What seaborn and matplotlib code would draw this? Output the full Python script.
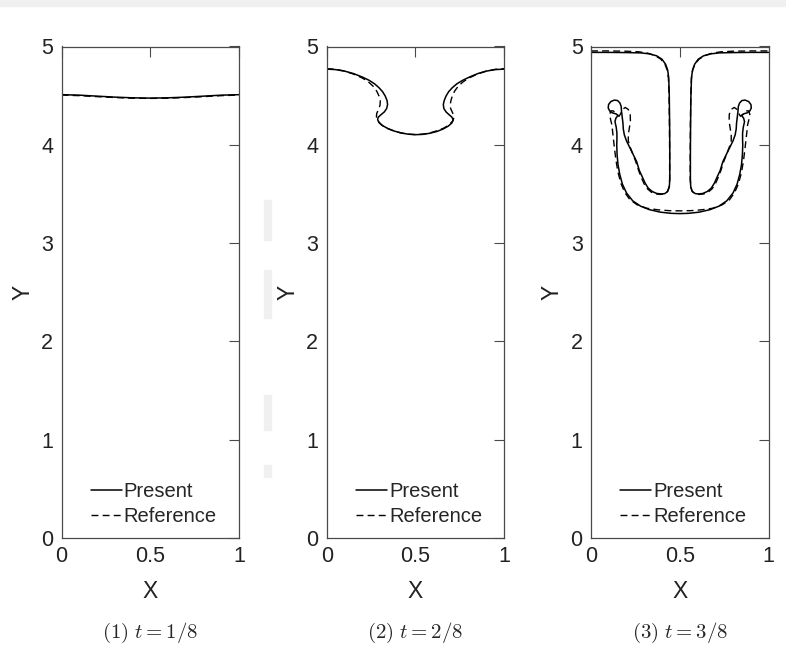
import matplotlib
matplotlib.use("Agg")
import matplotlib.pyplot as plt
import seaborn as sns
from matplotlib.patches import Rectangle

# ---------------- data ----------------
# Panel 1: t = 1/8
p1_present_x = [0.0, 0.1, 0.2, 0.3, 0.4, 0.5, 0.6, 0.7, 0.8, 0.9, 1.0]
p1_present_y = [4.510, 4.505, 4.495, 4.485, 4.478, 4.475, 4.478, 4.485, 4.495, 4.505, 4.510]
p1_ref_x = [0.0, 0.1, 0.2, 0.3, 0.4, 0.5, 0.6, 0.7, 0.8, 0.9, 1.0]
p1_ref_y = [4.506, 4.500, 4.490, 4.481, 4.474, 4.472, 4.474, 4.481, 4.490, 4.500, 4.506]

# Panel 2: t = 2/8
p2_present_x = [0.00, 0.05, 0.10, 0.15, 0.20, 0.24, 0.27, 0.295, 0.315, 0.330, 0.340, 0.343,
                0.338, 0.325, 0.305, 0.290, 0.287, 0.295, 0.315, 0.345, 0.38, 0.42, 0.46, 0.50,
                0.54, 0.58, 0.62, 0.655, 0.685, 0.705, 0.712, 0.705, 0.690, 0.672, 0.660, 0.657,
                0.662, 0.672, 0.687, 0.707, 0.733, 0.765, 0.805, 0.852, 0.90, 0.95, 1.00]
p2_present_y = [4.770, 4.765, 4.750, 4.725, 4.690, 4.655, 4.620, 4.580, 4.540, 4.495, 4.450, 4.410,
                4.370, 4.335, 4.305, 4.280, 4.255, 4.225, 4.195, 4.165, 4.140, 4.120, 4.108, 4.103,
                4.106, 4.117, 4.135, 4.160, 4.190, 4.222, 4.255, 4.282, 4.305, 4.335, 4.370, 4.410,
                4.450, 4.495, 4.540, 4.580, 4.620, 4.655, 4.690, 4.725, 4.750, 4.765, 4.770]
p2_ref_x = [0.00, 0.05, 0.10, 0.15, 0.20, 0.235, 0.262, 0.282, 0.295, 0.302, 0.300, 0.292,
            0.282, 0.280, 0.290, 0.31, 0.34, 0.38, 0.42, 0.46, 0.50,
            0.54, 0.58, 0.62, 0.66, 0.69, 0.712, 0.718, 0.708, 0.698, 0.696, 0.700,
            0.708, 0.722, 0.742, 0.768, 0.802, 0.850, 0.90, 0.95, 1.00]
p2_ref_y = [4.775, 4.768, 4.750, 4.720, 4.680, 4.640, 4.595, 4.545, 4.495, 4.445, 4.400, 4.360,
            4.320, 4.285, 4.240, 4.200, 4.168, 4.140, 4.120, 4.108, 4.104,
            4.108, 4.120, 4.142, 4.170, 4.205, 4.245, 4.290, 4.330, 4.370, 4.410, 4.450,
            4.500, 4.550, 4.598, 4.640, 4.680, 4.720, 4.750, 4.768, 4.775]

# Panel 3: t = 3/8
p3_present_x = [0.000, 0.100, 0.200, 0.280, 0.330, 0.370, 0.400, 0.420, 0.432, 0.438, 0.441, 0.443,
                0.444, 0.444, 0.441, 0.432, 0.415, 0.395, 0.370, 0.345, 0.322, 0.305, 0.290, 0.272,
                0.257, 0.238, 0.219, 0.200, 0.188, 0.182, 0.180, 0.176, 0.172, 0.170, 0.163, 0.150,
                0.132, 0.112, 0.099, 0.097, 0.105, 0.120, 0.140, 0.152, 0.140, 0.135, 0.142, 0.146,
                0.146, 0.145, 0.147, 0.152, 0.162, 0.177, 0.200, 0.235, 0.280, 0.330, 0.390, 0.450,
                0.500,
                0.550, 0.610, 0.670, 0.720, 0.765, 0.800, 0.823, 0.838, 0.848, 0.853, 0.855, 0.854,
                0.854, 0.858, 0.865, 0.860, 0.848, 0.860, 0.880, 0.895, 0.903, 0.901, 0.888, 0.868,
                0.850, 0.837, 0.830, 0.828, 0.824, 0.820, 0.818, 0.812, 0.800, 0.781, 0.762, 0.743,
                0.728, 0.710, 0.695, 0.678, 0.655, 0.630, 0.607, 0.588, 0.571, 0.562, 0.560, 0.560,
                0.561, 0.563, 0.566, 0.572, 0.584, 0.604, 0.634, 0.674, 0.722, 0.800, 0.900, 1.000]
p3_present_y = [4.940, 4.940, 4.938, 4.935, 4.925, 4.905, 4.870, 4.820, 4.760, 4.680, 4.500, 4.200,
                3.900, 3.650, 3.570, 3.525, 3.503, 3.500, 3.505, 3.525, 3.560, 3.610, 3.670, 3.740,
                3.830, 3.900, 3.970, 4.040, 4.100, 4.160, 4.220, 4.280, 4.340, 4.390, 4.425, 4.450,
                4.455, 4.440, 4.410, 4.375, 4.345, 4.325, 4.315, 4.300, 4.270, 4.235, 4.180, 4.120,
                4.050, 4.000, 3.900, 3.800, 3.700, 3.600, 3.510, 3.430, 3.375, 3.340, 3.315, 3.303,
                3.300,
                3.303, 3.315, 3.340, 3.375, 3.430, 3.510, 3.600, 3.700, 3.800, 3.900, 4.000, 4.050,
                4.120, 4.180, 4.235, 4.270, 4.300, 4.315, 4.325, 4.345, 4.375, 4.410, 4.440, 4.455,
                4.450, 4.425, 4.390, 4.340, 4.280, 4.220, 4.160, 4.100, 4.040, 3.970, 3.900, 3.830,
                3.740, 3.670, 3.610, 3.560, 3.525, 3.505, 3.500, 3.503, 3.525, 3.570, 3.650, 3.900,
                4.200, 4.500, 4.680, 4.760, 4.820, 4.870, 4.905, 4.925, 4.935, 4.938, 4.940, 4.940]
p3_ref_x = [0.000, 0.100, 0.200, 0.270, 0.320, 0.360, 0.393, 0.416, 0.429, 0.436, 0.440, 0.442,
            0.443, 0.443, 0.440, 0.430, 0.412, 0.390, 0.365, 0.340, 0.318, 0.300, 0.284, 0.268,
            0.252, 0.237, 0.222, 0.210, 0.210, 0.216, 0.222, 0.221, 0.210, 0.193, 0.177, 0.168,
            0.158, 0.142, 0.126, 0.112, 0.105, 0.110, 0.118, 0.122, 0.130, 0.140, 0.152, 0.170,
            0.192, 0.220, 0.260, 0.313, 0.380, 0.440, 0.500,
            0.560, 0.620, 0.687, 0.740, 0.780, 0.808, 0.830, 0.848, 0.860, 0.870, 0.878, 0.882,
            0.890, 0.895, 0.888, 0.874, 0.858, 0.842, 0.832, 0.823, 0.807, 0.790, 0.779, 0.778,
            0.784, 0.790, 0.790, 0.778, 0.763, 0.748, 0.732, 0.716, 0.700, 0.682, 0.660, 0.635,
            0.610, 0.588, 0.570, 0.562, 0.559, 0.559, 0.560, 0.562, 0.566, 0.573, 0.586, 0.609,
            0.642, 0.682, 0.732, 0.800, 0.900, 1.000]
p3_ref_y = [4.955, 4.955, 4.952, 4.946, 4.932, 4.908, 4.872, 4.822, 4.762, 4.680, 4.500, 4.200,
            3.900, 3.650, 3.570, 3.525, 3.500, 3.495, 3.500, 3.518, 3.552, 3.600, 3.665, 3.740,
            3.830, 3.900, 3.970, 4.040, 4.100, 4.170, 4.240, 4.310, 4.360, 4.380, 4.360, 4.320,
            4.290, 4.310, 4.345, 4.345, 4.310, 4.260, 4.200, 4.130, 4.000, 3.850, 3.720, 3.600,
            3.510, 3.440, 3.390, 3.355, 3.338, 3.330, 3.328,
            3.330, 3.338, 3.355, 3.390, 3.440, 3.510, 3.600, 3.720, 3.850, 4.000, 4.130, 4.200,
            4.260, 4.310, 4.345, 4.345, 4.310, 4.290, 4.320, 4.360, 4.380, 4.360, 4.310, 4.240,
            4.170, 4.100, 4.040, 3.970, 3.900, 3.830, 3.740, 3.665, 3.600, 3.552, 3.518, 3.500,
            3.495, 3.500, 3.525, 3.570, 3.650, 3.900, 4.200, 4.500, 4.680, 4.762, 4.822, 4.872,
            4.908, 4.932, 4.946, 4.952, 4.955, 4.955]

captions = [r"$(1)\ t = 1/8$", r"$(2)\ t = 2/8$", r"$(3)\ t = 3/8$"]
legend_labels = ["Present", "Reference"]
x_ticks = [0, 0.5, 1]
x_tick_labels = ["0", "0.5", "1"]
y_ticks = [0, 1, 2, 3, 4, 5]

panels = [
    (p1_present_x, p1_present_y, p1_ref_x, p1_ref_y),
    (p2_present_x, p2_present_y, p2_ref_x, p2_ref_y),
    (p3_present_x, p3_present_y, p3_ref_x, p3_ref_y),
]

# ---------------- style ----------------
sns.set_theme(style="white")
plt.rcParams["font.family"] = ["Liberation Sans", "DejaVu Sans"]
plt.rcParams["mathtext.fontset"] = "cm"

fig = plt.figure(figsize=(7.86, 6.49), dpi=100)

# faint grey watermark shapes in the background
bg = "#f0f0f0"
fig.patches.append(Rectangle((0, 1 - 6 / 649), 1, 6 / 649, transform=fig.transFigure,
                             color=bg, zorder=-10))
for (x0, y0, h) in [(264, 200, 40), (264, 270, 48), (264, 395, 35), (264, 465, 12)]:
    fig.patches.append(Rectangle((x0 / 786, 1 - (y0 + h) / 649), 7 / 786, h / 649,
                                 transform=fig.transFigure, color=bg, zorder=-10))

lefts = [61.5, 326.7, 591.0]
axes_bottom = 1 - 538 / 649
axes_h = (538 - 46.5) / 649
axes_w = 177.5 / 786
spine_col = "#4a4a4a"

for i, (px, py, rx, ry) in enumerate(panels):
    ax = fig.add_axes([lefts[i] / 786, axes_bottom, axes_w, axes_h])
    sns.lineplot(x=px, y=py, sort=False, estimator=None, ax=ax, color="black",
                 linewidth=1.1, label=legend_labels[0])
    sns.lineplot(x=rx, y=ry, sort=False, estimator=None, ax=ax, color="black",
                 linewidth=1.0, linestyle=(0, (5, 3)), label=legend_labels[1])
    ax.set_xlim(0, 1)
    ax.set_ylim(0, 5)
    ax.set_xticks(x_ticks)
    ax.set_xticklabels(x_tick_labels)
    ax.set_yticks(y_ticks)
    ax.tick_params(direction="in", top=True, right=True, length=7, width=0.8,
                   color=spine_col, labelsize=15.5, pad=6, labelcolor="#222222")
    for s in ax.spines.values():
        s.set_color(spine_col)
        s.set_linewidth(0.9)
    ax.set_xlabel("X", fontsize=16.5, labelpad=9, color="#222222")
    ax.set_ylabel("Y", fontsize=16.5, labelpad=5, color="#222222")
    ax.legend(frameon=False, loc="lower center", bbox_to_anchor=(0.52, 0.0),
              fontsize=14.5, handlelength=1.55, handletextpad=0.1,
              labelspacing=0.28, borderaxespad=0.2)
    fig.text((lefts[i] + axes_w * 786 / 2) / 786, 1 - 633 / 649, captions[i],
             ha="center", va="center", fontsize=15)

fig.savefig("out.png", dpi=100, facecolor="white")
